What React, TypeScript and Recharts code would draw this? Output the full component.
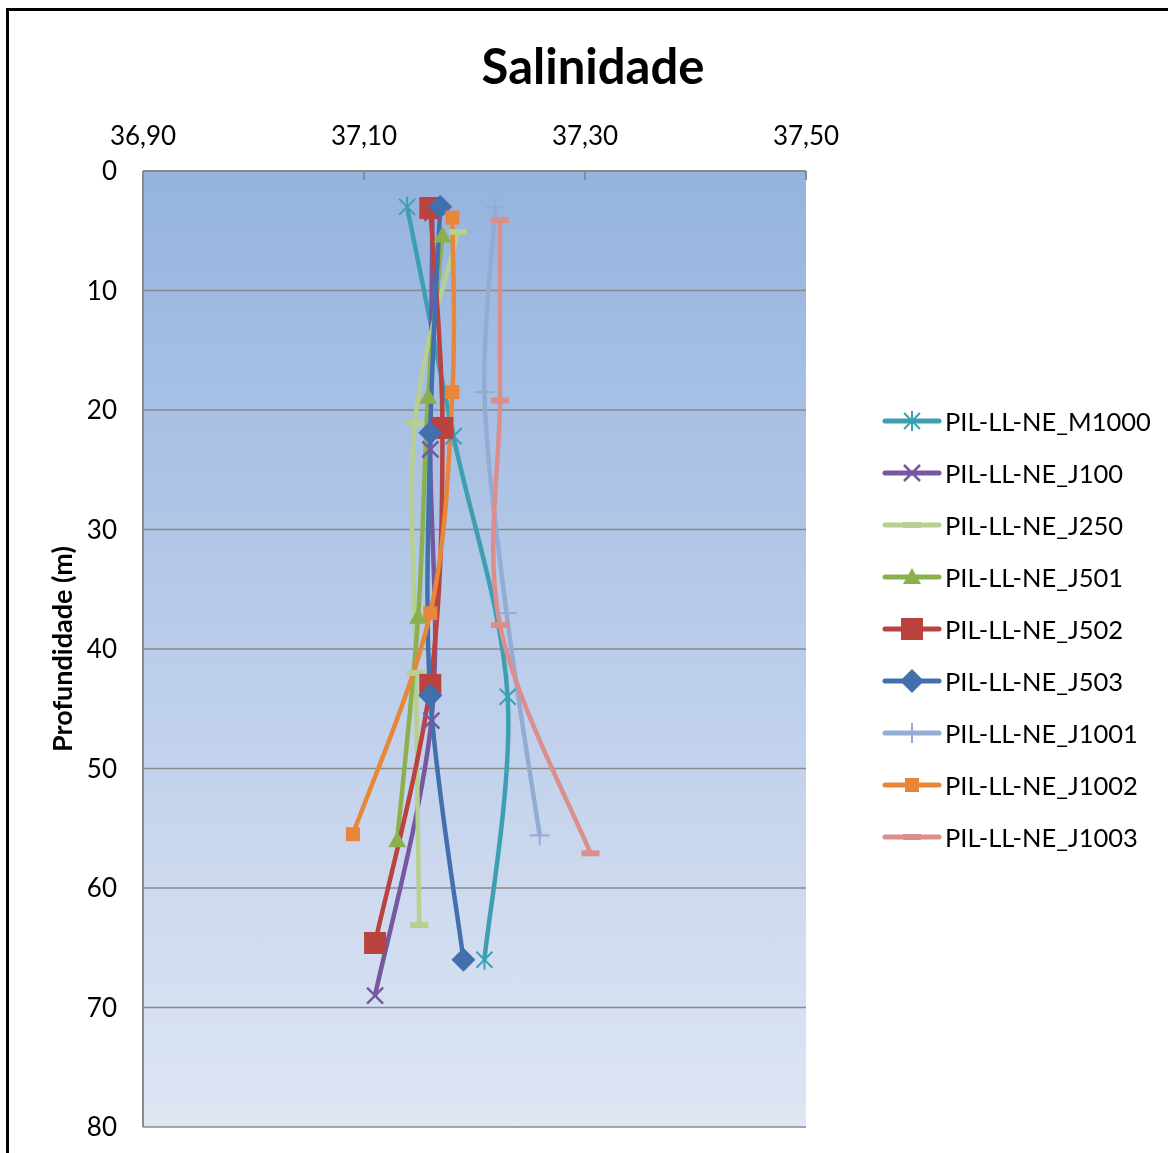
import { LineChart, Line, XAxis, YAxis, CartesianGrid } from "recharts";

// depth (m) and salinity for each station profile
const depthM1000 = [3, 22.2, 44, 66];
const salM1000 = [37.139, 37.181, 37.23, 37.209];

const depthJ100 = [3.5, 23.3, 46, 69];
const salJ100 = [37.162, 37.16, 37.161, 37.11];

const depthJ250 = [5.1, 21.1, 42, 63.1];
const salJ250 = [37.185, 37.146, 37.147, 37.15];

const depthJ501 = [5.4, 18.9, 37.3, 56];
const salJ501 = [37.171, 37.158, 37.149, 37.13];

const depthJ502 = [3.1, 21.5, 43, 64.6];
const salJ502 = [37.16, 37.171, 37.16, 37.11];

const depthJ503 = [3, 21.9, 43.9, 66];
const salJ503 = [37.169, 37.16, 37.16, 37.19];

const depthJ1001 = [3, 18.5, 37, 55.6];
const salJ1001 = [37.219, 37.209, 37.229, 37.259];

const depthJ1002 = [3.9, 18.5, 37, 55.5];
const salJ1002 = [37.18, 37.18, 37.16, 37.09];

const depthJ1003 = [4.1, 19.2, 38, 57.1];
const salJ1003 = [37.223, 37.223, 37.223, 37.305];

const salTicks = [36.9, 37.1, 37.3, 37.5];
const depthTicks = [0, 10, 20, 30, 40, 50, 60, 70, 80];

const FONT = "Lato, 'Open Sans', sans-serif";
const GRID = "#8a8a8a";

type MarkerKind = "asterisk" | "cross" | "dash" | "triangle" | "squareBig" | "diamond" | "plus" | "squareSmall";

const zip = (d: number[], s: number[]) => d.map((depth, i) => ({ d: depth, v: s[i] }));

const series: { name: string; data: { d: number; v: number }[]; color: string; marker: MarkerKind }[] = [
  { name: "PIL-LL-NE_M1000", data: zip(depthM1000, salM1000), color: "#3E9FB3", marker: "asterisk" },
  { name: "PIL-LL-NE_J100", data: zip(depthJ100, salJ100), color: "#7558A0", marker: "cross" },
  { name: "PIL-LL-NE_J250", data: zip(depthJ250, salJ250), color: "#B8D08F", marker: "dash" },
  { name: "PIL-LL-NE_J501", data: zip(depthJ501, salJ501), color: "#8DB04F", marker: "triangle" },
  { name: "PIL-LL-NE_J502", data: zip(depthJ502, salJ502), color: "#BA423F", marker: "squareBig" },
  { name: "PIL-LL-NE_J503", data: zip(depthJ503, salJ503), color: "#4270AE", marker: "diamond" },
  { name: "PIL-LL-NE_J1001", data: zip(depthJ1001, salJ1001), color: "#93ACD4", marker: "plus" },
  { name: "PIL-LL-NE_J1002", data: zip(depthJ1002, salJ1002), color: "#E8873A", marker: "squareSmall" },
  { name: "PIL-LL-NE_J1003", data: zip(depthJ1003, salJ1003), color: "#DC8E8C", marker: "dash" },
];

// Excel-style smoothed line (Catmull-Rom through the points)
const smoothCurve = (context: any) => {
  let pts: [number, number][] = [];
  return {
    areaStart() {},
    areaEnd() {},
    lineStart() {
      pts = [];
    },
    point(x: number, y: number) {
      pts.push([+x, +y]);
    },
    lineEnd() {
      if (!pts.length) return;
      context.moveTo(pts[0][0], pts[0][1]);
      for (let i = 0; i < pts.length - 1; i++) {
        const p0 = pts[Math.max(i - 1, 0)];
        const p1 = pts[i];
        const p2 = pts[i + 1];
        const p3 = pts[Math.min(i + 2, pts.length - 1)];
        context.bezierCurveTo(
          p1[0] + (p2[0] - p0[0]) / 6,
          p1[1] + (p2[1] - p0[1]) / 6,
          p2[0] - (p3[0] - p1[0]) / 6,
          p2[1] - (p3[1] - p1[1]) / 6,
          p2[0],
          p2[1]
        );
      }
    },
  };
};

function Marker({ kind, color, x, y }: { kind: MarkerKind; color: string; x: number; y: number }) {
  switch (kind) {
    case "asterisk":
      return (
        <g stroke={color} strokeWidth={2}>
          <line x1={x - 8} y1={y - 8} x2={x + 8} y2={y + 8} />
          <line x1={x - 8} y1={y + 8} x2={x + 8} y2={y - 8} />
          <line x1={x} y1={y - 10} x2={x} y2={y + 10} />
        </g>
      );
    case "cross":
      return (
        <g stroke={color} strokeWidth={2.5}>
          <line x1={x - 8} y1={y - 8} x2={x + 8} y2={y + 8} />
          <line x1={x - 8} y1={y + 8} x2={x + 8} y2={y - 8} />
        </g>
      );
    case "dash":
      return <rect x={x - 9} y={y - 3} width={18} height={6} fill={color} />;
    case "triangle":
      return <path d={`M${x},${y - 9}L${x + 9},${y + 7}L${x - 9},${y + 7}Z`} fill={color} />;
    case "squareBig":
      return <rect x={x - 11} y={y - 11} width={22} height={22} fill={color} />;
    case "diamond":
      return <path d={`M${x},${y - 12}L${x + 12},${y}L${x},${y + 12}L${x - 12},${y}Z`} fill={color} />;
    case "plus":
      return (
        <g stroke={color} strokeWidth={2}>
          <line x1={x - 10} y1={y} x2={x + 10} y2={y} />
          <line x1={x} y1={y - 10} x2={x} y2={y + 10} />
        </g>
      );
    case "squareSmall":
      return <rect x={x - 7} y={y - 7} width={14} height={14} fill={color} />;
  }
}

function LegendList() {
  return (
    <div
      style={{
        position: "absolute",
        left: 874,
        top: 387,
        width: 290,
        fontFamily: FONT,
        fontSize: 25.5,
        color: "#000",
      }}
    >
      {series.map((s) => (
        <div key={s.name} style={{ display: "flex", alignItems: "center", height: 52 }}>
          <svg width={62} height={26} style={{ display: "block" }}>
            <line x1={3} y1={13} x2={57} y2={13} stroke={s.color} strokeWidth={5} strokeLinecap="round" />
            <Marker kind={s.marker} color={s.color} x={30} y={13} />
          </svg>
          <span style={{ marginLeft: 1, whiteSpace: "nowrap" }}>{s.name}</span>
        </div>
      ))}
    </div>
  );
}

export default function App() {
  return (
    <div style={{ position: "relative", width: 1152, height: 1137, overflow: "hidden", background: "#fff" }}>
      {/* outer frame, fixed so it runs off the page edges without scrollbars */}
      <div
        style={{
          position: "fixed",
          left: 6,
          top: 8,
          width: 1300,
          height: 1300,
          borderTop: "3px solid #000",
          borderLeft: "3px solid #000",
          pointerEvents: "none",
        }}
      />
      <div
        style={{
          position: "absolute",
          left: 0,
          width: 1170,
          top: 27,
          textAlign: "center",
          fontFamily: FONT,
          fontWeight: 700,
          fontSize: 49,
          lineHeight: "60px",
        }}
      >
        Salinidade
      </div>
      <LineChart
        width={1152}
        height={1137}
        layout="vertical"
        margin={{ top: 123, right: 354, bottom: 18, left: 0 }}
        style={{ fontFamily: FONT }}
      >
        <defs>
          <linearGradient id="plotBg" x1="0" y1="0" x2="0" y2="1">
            <stop offset="0%" stopColor="#95B3DF" />
            <stop offset="100%" stopColor="#DFE6F4" />
          </linearGradient>
        </defs>
        <CartesianGrid vertical={false} horizontal={true} stroke={GRID} strokeWidth={1.5} fill="url(#plotBg)" fillOpacity={1} />
        <XAxis
          type="number"
          orientation="top"
          domain={[36.9, 37.5]}
          ticks={salTicks}
          allowDataOverflow
          tickFormatter={(v: number) => v.toFixed(2).replace(".", ",")}
          height={40}
          tickSize={-9}
          tickMargin={35}
          axisLine={{ stroke: GRID, strokeWidth: 2 }}
          tickLine={{ stroke: GRID, strokeWidth: 2 }}
          tick={{ fill: "#000", fontSize: 26, fontFamily: FONT }}
        />
        <YAxis
          type="number"
          dataKey="d"
          domain={[0, 80]}
          ticks={depthTicks}
          allowDataOverflow
          width={135}
          tickSize={0}
          tickMargin={26}
          tickLine={false}
          axisLine={{ stroke: GRID, strokeWidth: 2 }}
          tick={{ fill: "#000", fontSize: 26, fontFamily: FONT }}
          label={{
            value: "Profundidade (m)",
            angle: -90,
            position: "insideLeft",
            offset: 54,
            style: { textAnchor: "middle", fontWeight: 700, fontSize: 27, fill: "#000", fontFamily: FONT },
          }}
        />
        {series.map((s) => (
          <Line
            key={s.name}
            name={s.name}
            data={s.data}
            dataKey="v"
            type={smoothCurve as any}
            stroke={s.color}
            strokeWidth={4.5}
            isAnimationActive={false}
            dot={(p: any) => <Marker key={`${s.name}-${p.index}`} kind={s.marker} color={s.color} x={p.cx} y={p.cy} />}
            activeDot={false}
          />
        ))}
      </LineChart>
      <LegendList />
    </div>
  );
}
